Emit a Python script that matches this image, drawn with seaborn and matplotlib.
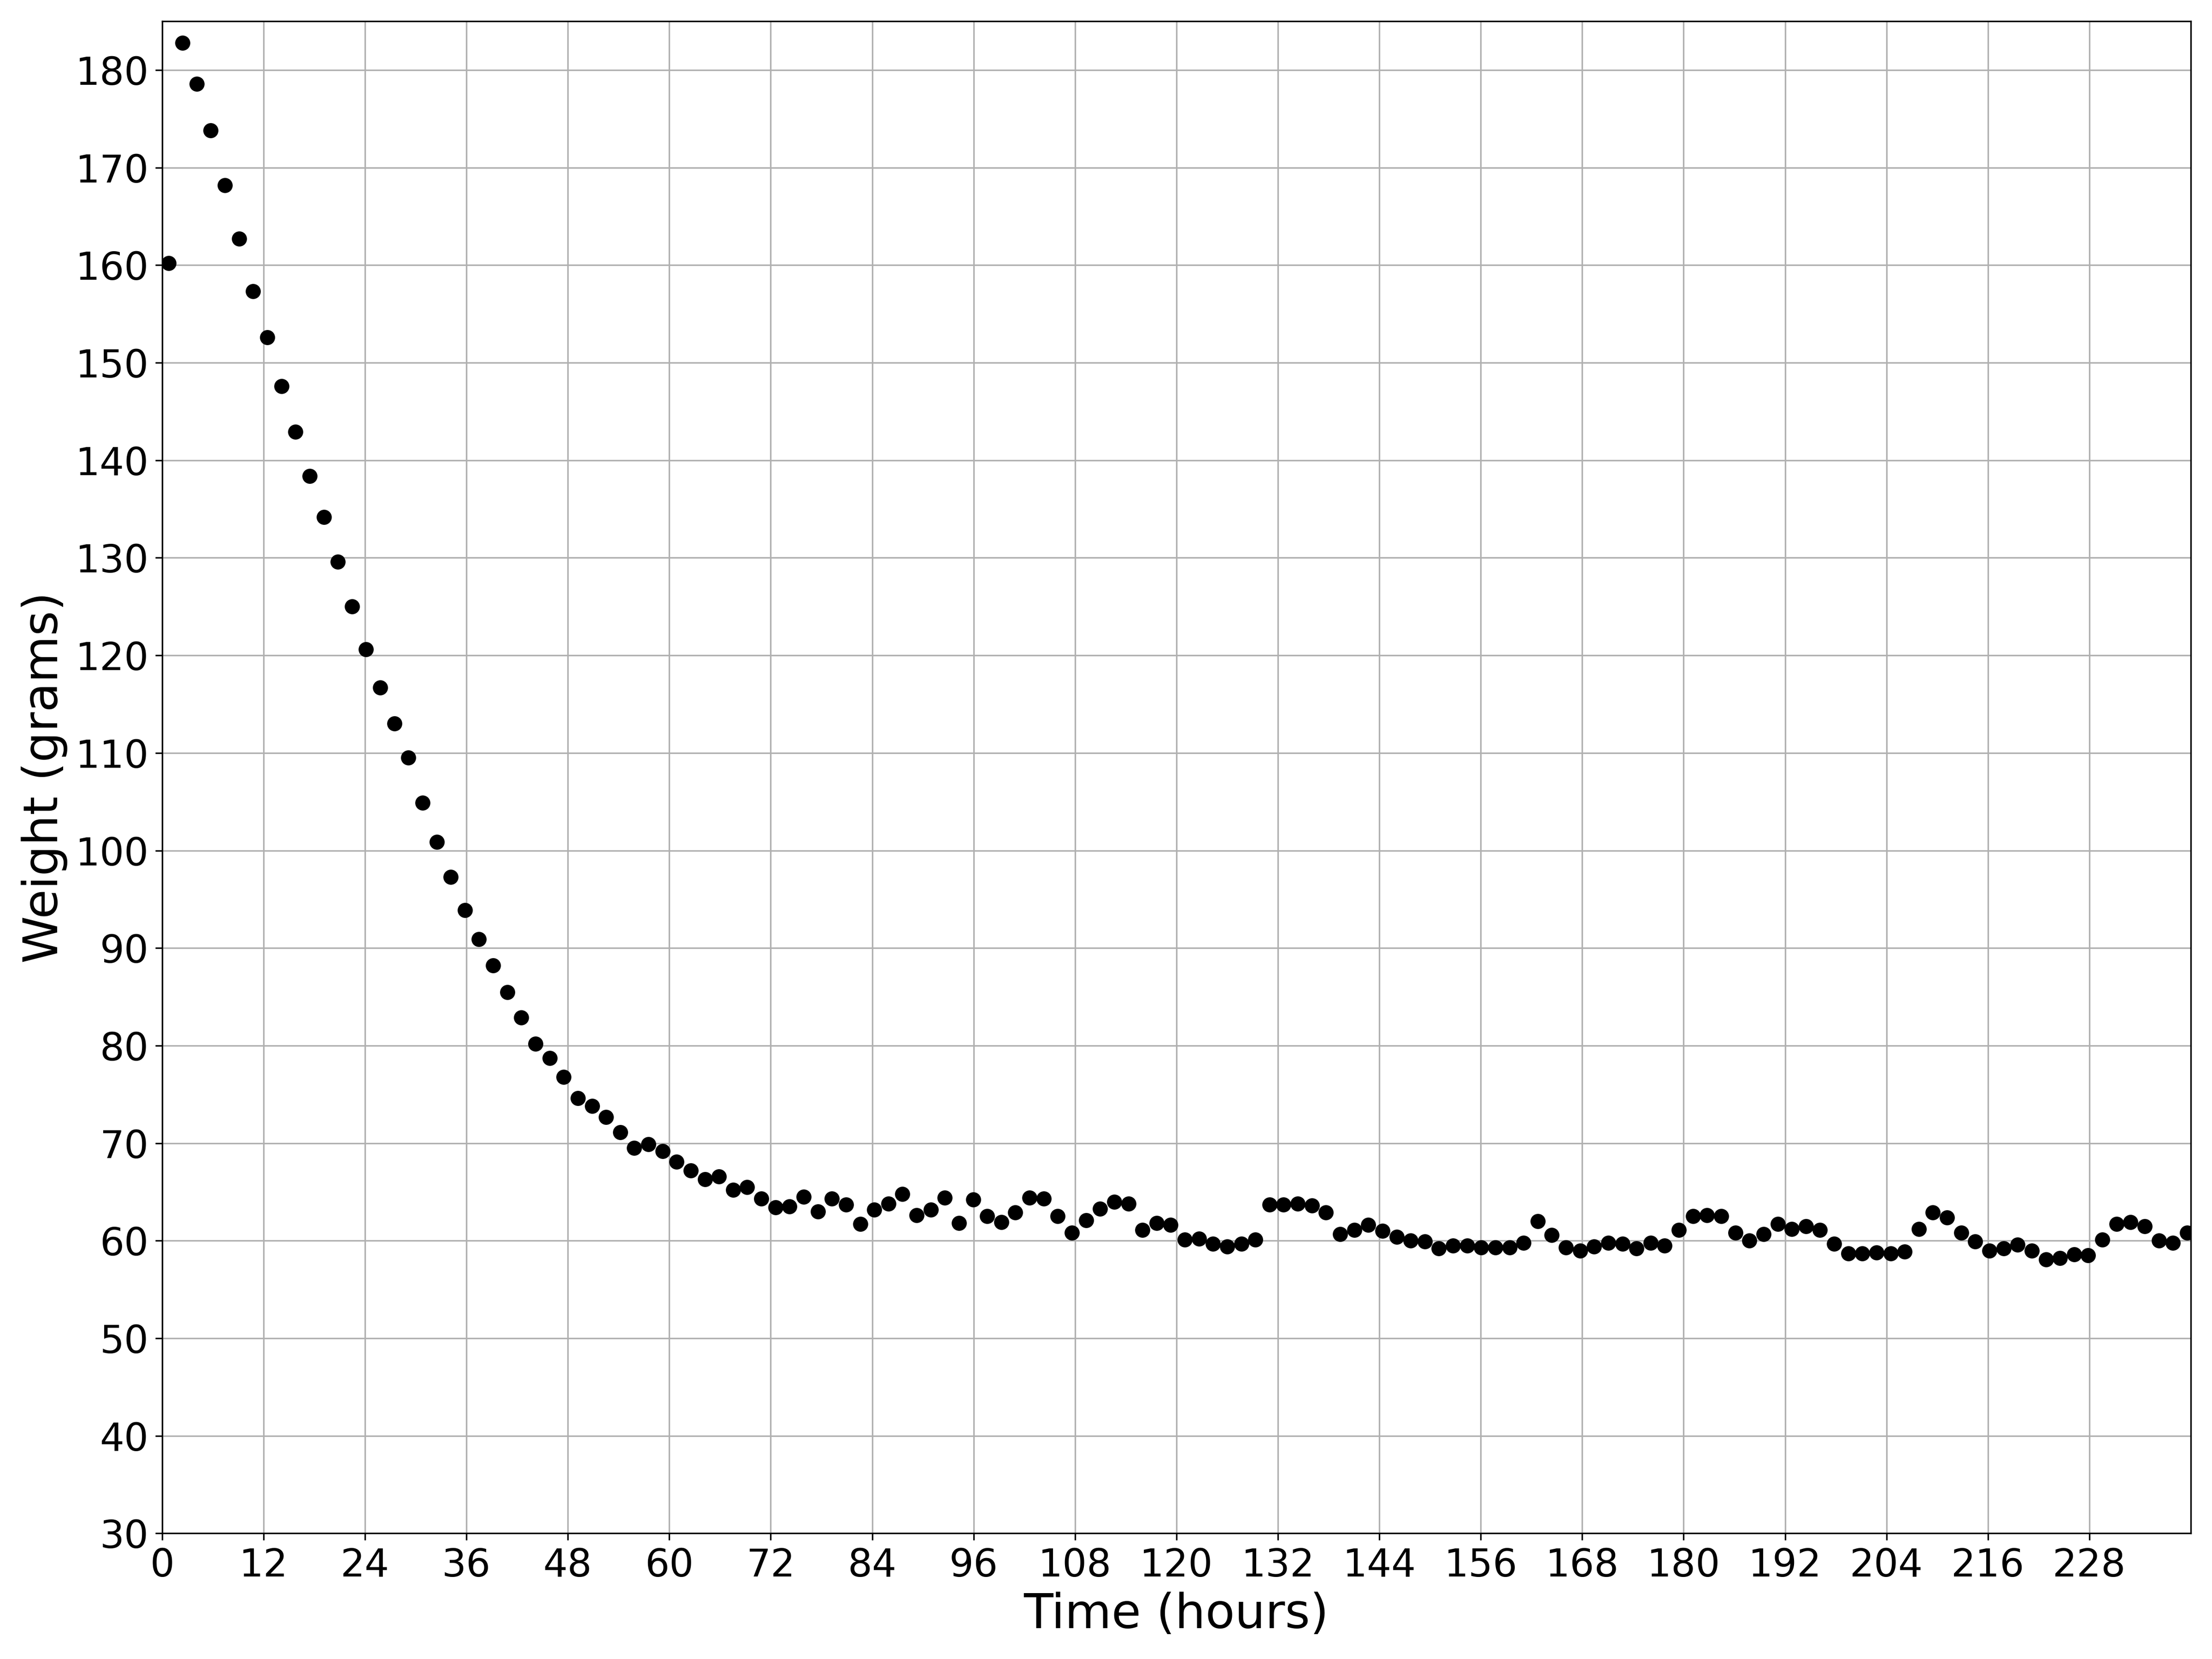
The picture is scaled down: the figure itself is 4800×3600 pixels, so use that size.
import matplotlib
matplotlib.use("Agg")
import matplotlib.pyplot as plt
import seaborn as sns

# sample times (hours), one reading roughly every 100 minutes
hours = [
    0.75, 2.42, 4.09, 5.76, 7.43, 9.10, 10.77, 12.44, 14.11, 15.78,
    17.45, 19.12, 20.79, 22.46, 24.13, 25.80, 27.47, 29.14, 30.81, 32.48,
    34.15, 35.82, 37.49, 39.16, 40.83, 42.50, 44.17, 45.84, 47.51, 49.18,
    50.85, 52.52, 54.19, 55.86, 57.53, 59.20, 60.87, 62.54, 64.21, 65.88,
    67.55, 69.22, 70.89, 72.56, 74.23, 75.90, 77.57, 79.24, 80.91, 82.58,
    84.25, 85.92, 87.59, 89.26, 90.93, 92.60, 94.27, 95.94, 97.61, 99.28,
    100.95, 102.62, 104.29, 105.96, 107.63, 109.30, 110.97, 112.64, 114.31, 115.98,
    117.65, 119.32, 120.99, 122.66, 124.33, 126.00, 127.67, 129.34, 131.01, 132.68,
    134.35, 136.02, 137.69, 139.36, 141.03, 142.70, 144.37, 146.04, 147.71, 149.38,
    151.05, 152.72, 154.39, 156.06, 157.73, 159.40, 161.07, 162.74, 164.41, 166.08,
    167.75, 169.42, 171.09, 172.76, 174.43, 176.10, 177.77, 179.44, 181.11, 182.78,
    184.45, 186.12, 187.79, 189.46, 191.13, 192.80, 194.47, 196.14, 197.81, 199.48,
    201.15, 202.82, 204.49, 206.16, 207.83, 209.50, 211.17, 212.84, 214.51, 216.18,
    217.85, 219.52, 221.19, 222.86, 224.53, 226.20, 227.87, 229.54, 231.21, 232.88,
    234.55, 236.22, 237.89, 239.56,
]

weight = [
    160.2, 182.8, 178.6, 173.8, 168.2, 162.7, 157.3, 152.6, 147.6, 142.9,
    138.4, 134.2, 129.6, 125.0, 120.6, 116.7, 113.0, 109.5, 104.9, 100.9,
    97.3, 93.9, 90.9, 88.2, 85.5, 82.9, 80.2, 78.7, 76.8, 74.6,
    73.8, 72.7, 71.1, 69.5, 69.9, 69.2, 68.1, 67.2, 66.3, 66.6,
    65.2, 65.5, 64.3, 63.4, 63.5, 64.5, 63.0, 64.3, 63.7, 61.7,
    63.2, 63.8, 64.8, 62.6, 63.2, 64.4, 61.8, 64.2, 62.5, 61.9,
    62.9, 64.4, 64.3, 62.5, 60.8, 62.1, 63.3, 64.0, 63.8, 61.1,
    61.8, 61.6, 60.1, 60.2, 59.7, 59.4, 59.7, 60.1, 63.7, 63.7,
    63.8, 63.6, 62.9, 60.7, 61.1, 61.6, 61.0, 60.4, 60.0, 59.9,
    59.2, 59.5, 59.5, 59.3, 59.3, 59.3, 59.8, 62.0, 60.6, 59.3,
    59.0, 59.4, 59.8, 59.7, 59.2, 59.8, 59.5, 61.1, 62.5, 62.6,
    62.5, 60.8, 60.0, 60.7, 61.7, 61.2, 61.5, 61.1, 59.7, 58.7,
    58.7, 58.8, 58.7, 58.9, 61.2, 62.9, 62.4, 60.8, 59.9, 59.0,
    59.2, 59.6, 59.0, 58.1, 58.2, 58.6, 58.5, 60.1, 61.7, 61.9,
    61.5, 60.0, 59.8, 60.8,
]

x_ticks = list(range(0, 229, 12))
y_ticks = list(range(30, 181, 10))

sns.set_style("ticks", {
    "axes.edgecolor": "black",
    "axes.linewidth": 0.8,
    "axes.labelcolor": "black",
    "axes.grid": True,
    "grid.color": "#b0b0b0",
    "grid.linewidth": 0.8,
    "xtick.color": "black",
    "ytick.color": "black",
    "text.color": "black",
})

fig, ax = plt.subplots(figsize=(16, 12), dpi=300)
fig.subplots_adjust(left=0.0733, right=0.9904, top=0.9872, bottom=0.0757)

sns.scatterplot(x=hours, y=weight, color="black", s=62, linewidth=0, ax=ax)

ax.set_xlim(0, 240)
ax.set_ylim(30, 185)
ax.set_xticks(x_ticks)
ax.set_yticks(y_ticks)
ax.tick_params(labelsize=20, length=3.5, width=0.8, colors="black")
ax.set_xlabel("Time (hours)", fontsize=25, color="black")
ax.set_ylabel("Weight (grams)", fontsize=25, color="black")
ax.grid(True, color="#b0b0b0", linewidth=0.8)

fig.savefig("out.png", dpi=300)
